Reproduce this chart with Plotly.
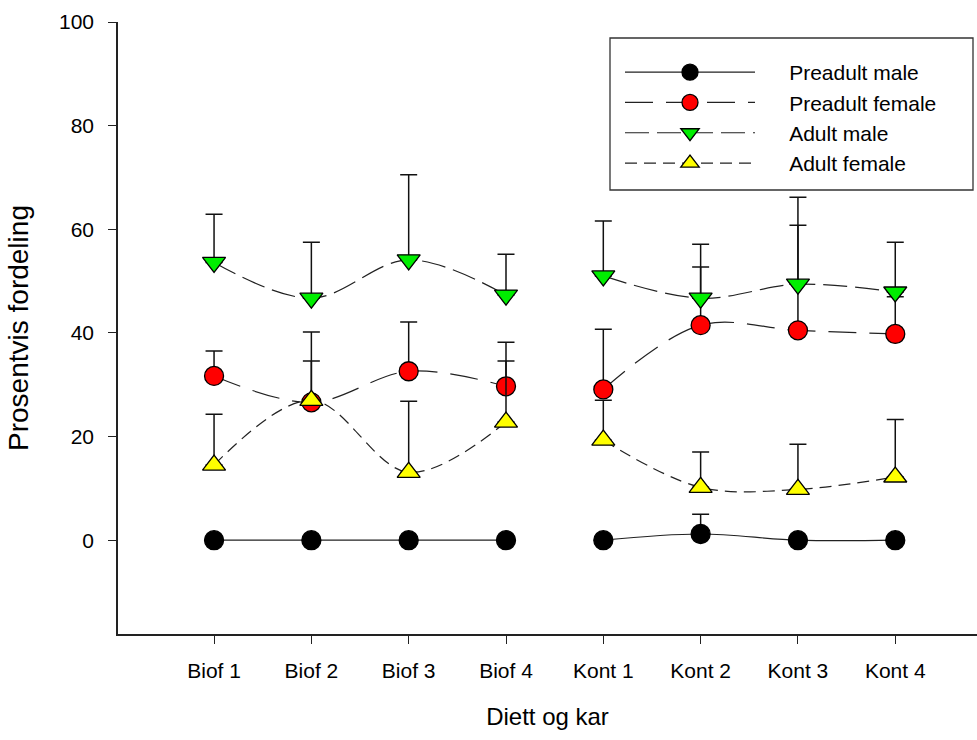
import plotly.graph_objects as go

categories = ["Biof 1", "Biof 2", "Biof 3", "Biof 4", "Kont 1", "Kont 2", "Kont 3", "Kont 4"]

preadult_male = [0, 0, 0, 0, 0, 1.2, 0, 0]
preadult_male_err = [0, 0, 0, 0, 0, 3.8, 0, 0]

preadult_female = [31.7, 26.6, 32.6, 29.7, 29.1, 41.5, 40.5, 39.8]
preadult_female_top = [36.5, 34.6, 42.1, 34.6, 40.7, 52.7, 60.8, 47.0]

adult_male = [53.6, 46.7, 54.1, 47.3, 51.0, 46.7, 49.4, 47.9]
adult_male_top = [62.9, 57.5, 70.5, 55.2, 61.6, 57.1, 66.2, 57.5]

adult_female = [14.5, 27.0, 13.1, 22.8, 19.3, 10.2, 9.8, 12.2]
adult_female_top = [24.3, 40.2, 26.8, 38.2, 27.0, 17.0, 18.5, 23.3]

series = [
    ("Preadult male", preadult_male, list(preadult_male_err), "circle", "black", "solid"),
    ("Preadult female", preadult_female, [t - v for t, v in zip(preadult_female_top, preadult_female)], "circle", "red", "28px,13px"),
    ("Adult male", adult_male, [t - v for t, v in zip(adult_male_top, adult_male)], "triangle-down", "#00ee00", "24px,8px"),
    ("Adult female", adult_female, [t - v for t, v in zip(adult_female_top, adult_female)], "triangle-up", "yellow", "12px,7px"),
]

xpos = list(range(1, len(categories) + 1))


def with_gap(vals):
    return vals[:4] + [None] + vals[4:]


PAD = "\u00a0" * 5
TAIL = "\u00a0" * 3

fig = go.Figure()
for name, vals, errs, sym, col, dash in series:
    fig.add_trace(go.Scatter(
        x=with_gap(xpos), y=with_gap(vals), name=PAD + name + TAIL, mode="lines+markers",
        connectgaps=False,
        line=dict(color="#222222", width=1.2, dash=dash, shape="spline"),
        marker=dict(symbol=sym, size=19 if sym == "circle" else 20, color=col,
                    line=dict(color="black", width=1.3)),
        error_y=dict(type="data", symmetric=False, array=with_gap(errs),
                     arrayminus=[0 if e is not None else None for e in with_gap(errs)],
                     color="#111111", thickness=1.5, width=8.5),
    ))


def px_x(p):
    return (p - 118) / 859


def px_y(p):
    return (634 - p) / 612


fig.add_shape(type="rect", xref="paper", yref="paper",
              x0=px_x(610), x1=px_x(973), y0=px_y(190), y1=px_y(38),
              line=dict(color="#333333", width=1.3), fillcolor="rgba(0,0,0,0)", layer="above")

fig.update_layout(
    width=977, height=740,
    margin=dict(l=118, r=0, t=22, b=106),
    paper_bgcolor="white", plot_bgcolor="white",
    font=dict(family="Liberation Sans, Arial, sans-serif", size=21, color="black"),
    showlegend=True,
    legend=dict(x=px_x(620), y=px_y(52), xanchor="left", yanchor="top",
                borderwidth=0, bgcolor="rgba(0,0,0,0)",
                font=dict(size=21), itemwidth=130, tracegroupgap=0,
                itemsizing="trace"),
    xaxis=dict(range=[0.013, 8.84], tickvals=xpos, ticktext=categories,
               showgrid=False, zeroline=False, showline=True, linecolor="#222222",
               linewidth=1.5, ticks="outside", ticklen=8, tickcolor="#222222",
               ticklabelstandoff=9,
               title=dict(text="Diett og kar", font=dict(size=24), standoff=27),
               tickfont=dict(size=21)),
    yaxis=dict(range=[-18.1, 100], tickvals=[0, 20, 40, 60, 80, 100],
               showgrid=False, zeroline=False, showline=True, linecolor="#222222",
               linewidth=1.5, ticks="outside", ticklen=8, tickcolor="#222222",
               ticklabelstandoff=10,
               title=dict(text="Prosentvis fordeling", font=dict(size=28), standoff=22),
               tickfont=dict(size=21)),
)

fig.write_html("out.html")
